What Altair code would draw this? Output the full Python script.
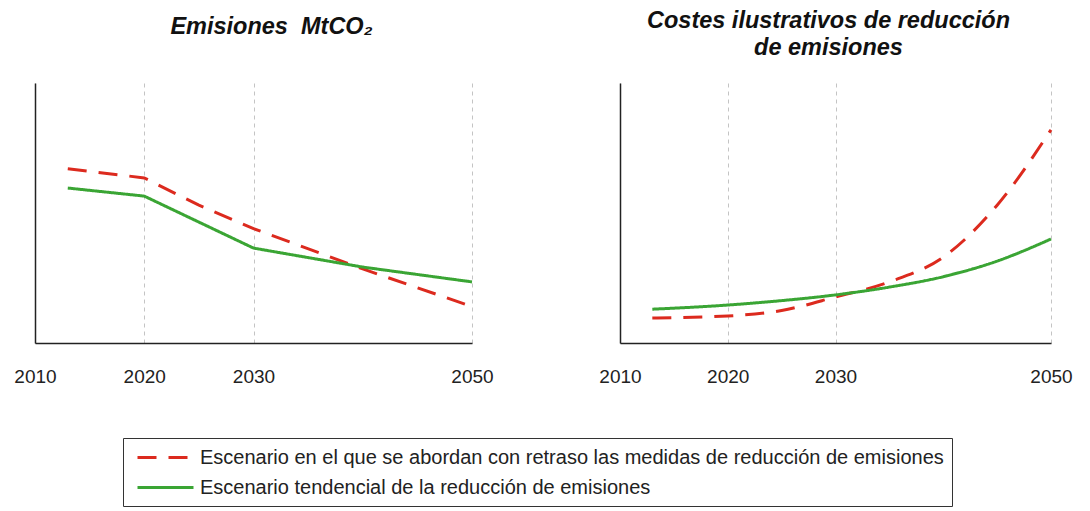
import altair as alt
import pandas as pd

series_delay = "Escenario en el que se abordan con retraso las medidas de reducción de emisiones"
series_trend = "Escenario tendencial de la reducción de emisiones"
series_names = [series_delay, series_trend]
series_colors = ["#DC2A1E", "#3AA534"]

em_years = [2013, 2020, 2025, 2030, 2040, 2050]
em_delay = [67, 63.5, 53, 44, 28.5, 14]
em_trend = [59.6, 56.5, 46.5, 36.5, 29.2, 23.5]

cost_years = [2013, 2020, 2025, 2030, 2035, 2040, 2045, 2050]
cost_delay = [9.6, 10.4, 12.5, 17.7, 23.5, 33, 53, 82]
cost_trend = [13, 14.6, 16.3, 18.5, 21.5, 25.5, 31.5, 40]

tick_years = [2010, 2020, 2030, 2050]

title_left = "Emisiones\u00a0 MtCO\u2082"
title_right = ["Costes ilustrativos de reducción", "de emisiones"]


def make_df(years, delay, trend):
    rows = []
    for y, v in zip(years, delay):
        rows.append({"year": y, "value": v, "series": series_delay})
    for y, v in zip(years, trend):
        rows.append({"year": y, "value": v, "series": series_trend})
    return pd.DataFrame(rows)


FONT = "Liberation Sans"

legend = alt.Legend(
    title=None, orient="none", legendX=88, legendY=355, direction="vertical",
    symbolType="M-0.5,0H5.1", symbolSize=400, symbolStrokeWidth=3,
    labelFontSize=20, labelFont=FONT, labelColor="#222", labelLimit=1000,
    strokeColor="#333", padding=8, rowPadding=8, labelOffset=46, fillColor="white",
)


def panel(df, title, offset, dx, interp, width):
    return alt.Chart(df).mark_line(strokeWidth=3, interpolate=interp).encode(
        x=alt.X("year:Q",
                scale=alt.Scale(domain=[2010, 2050], nice=False, zero=False),
                axis=alt.Axis(values=tick_years, format="d", title=None, grid=True,
                              gridDash=[4, 4], gridColor="#c4c4c4", ticks=False,
                              labelPadding=24, labelFontSize=19, labelFont=FONT,
                              labelFlush=False, labelOverlap=False,
                              domainColor="#222", labelColor="#222", domainWidth=1.5)),
        y=alt.Y("value:Q", scale=alt.Scale(domain=[0, 100], nice=False),
                axis=alt.Axis(title=None, labels=False, ticks=False, grid=False,
                              domainColor="#222", domainWidth=1.5)),
        color=alt.Color("series:N", scale=alt.Scale(domain=series_names, range=series_colors),
                        legend=legend),
        strokeDash=alt.StrokeDash("series:N",
                                  scale=alt.Scale(domain=series_names, range=[[19, 12], [1, 0]]),
                                  legend=legend),
    ).properties(
        width=width, height=260,
        title=alt.TitleParams(text=title, fontSize=23.5, font=FONT, fontStyle="italic",
                              fontWeight="bold", anchor="middle", offset=offset, dx=dx,
                              baseline="alphabetic", lineHeight=27, color="#111"),
    )


left = panel(make_df(em_years, em_delay, em_trend), title_left, 26, 18, "linear", 437)
right = panel(make_df(cost_years, cost_delay, cost_trend), title_right, 5, -7, "monotone", 431)

chart = alt.hconcat(left, right, spacing=104).properties(
    padding={"left": 5, "top": 0, "right": 5, "bottom": 0}
).configure_view(stroke=None)

chart.save("out.html", embed_options={"renderer": "svg", "actions": False})
